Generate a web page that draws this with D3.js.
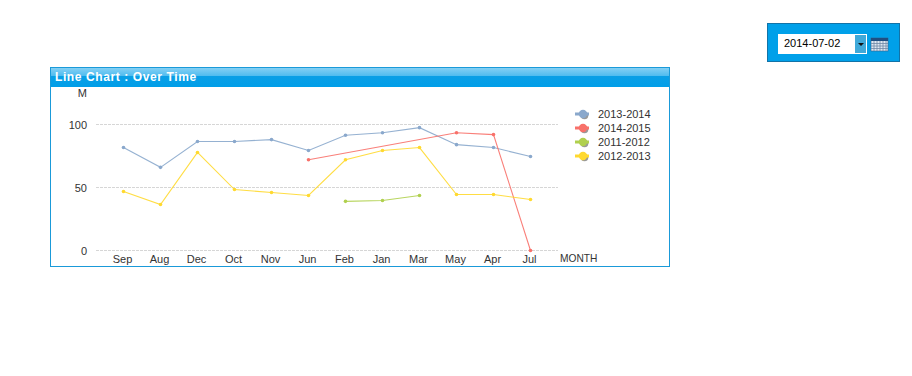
<!DOCTYPE html>
<html>
<head>
<meta charset="utf-8">
<script src="https://cdn.jsdelivr.net/npm/d3@7"></script>
<style>
  html, body { margin: 0; padding: 0; background: #fff; overflow: hidden; }
  text { font-family: "Liberation Sans", sans-serif; font-size: 11px; fill: #333; }
</style>
</head>
<body>
<div id="chart"></div>
<script>
const months = ["Sep", "Aug", "Dec", "Oct", "Nov", "Jun", "Feb", "Jan", "Mar", "May", "Apr", "Jul"];
const yTicks = [0, 50, 100];

const seriesNames = ["2013-2014", "2014-2015", "2011-2012", "2012-2013"];
const seriesColors = ["#8aa8cc", "#f8716a", "#b0d04e", "#ffd92f"];

const v1314 = [81.7, 66, 86.5, 86.5, 88, 79.4, 91.5, 93.5, 97.5, 84, 81.7, 74.6];
const v1415 = [null, null, null, null, null, 72, null, null, null, 93.5, 92, 0];
const v1112 = [null, null, null, null, null, null, 39, 39.7, 43.7, null, null, null];
const v1213 = [46.8, 36.5, 77.8, 48.4, 46, 43.7, 72, 79.4, 81.7, 44.4, 44.4, 40.5];
const seriesValues = [v1314, v1415, v1112, v1213];

const svg = d3.select("#chart").append("svg")
  .attr("width", 912)
  .attr("height", 376)
  .style("display", "block");

const defs = svg.append("defs");
const captionGrad = defs.append("linearGradient")
  .attr("id", "captionGrad")
  .attr("x1", 0).attr("x2", 0).attr("y1", 0).attr("y2", 1);
captionGrad.append("stop").attr("offset", "0%").attr("stop-color", "#84d0f4");
captionGrad.append("stop").attr("offset", "42%").attr("stop-color", "#4fbcef");
captionGrad.append("stop").attr("offset", "44%").attr("stop-color", "#0a9fe6");
captionGrad.append("stop").attr("offset", "100%").attr("stop-color", "#009ee8");

// date picker box
const picker = svg.append("g");
picker.append("rect")
  .attr("x", 767.5).attr("y", 23.5).attr("width", 132).attr("height", 38)
  .attr("fill", "#00a0e9").attr("stroke", "#1273a8");
picker.append("rect")
  .attr("x", 778).attr("y", 34).attr("width", 89).attr("height", 20)
  .attr("fill", "#fff");
picker.append("rect")
  .attr("x", 855).attr("y", 35).attr("width", 11).attr("height", 18)
  .attr("fill", "#3fa9d9");
picker.append("path")
  .attr("d", d3.line()([[858, 43], [864, 43], [861, 46]]) + "Z")
  .attr("fill", "#111");
picker.append("text")
  .attr("x", 784).attr("y", 47)
  .style("fill", "#000")
  .text("2014-07-02");

// little calendar icon
const cal = picker.append("g").attr("transform", "translate(871,38)");
cal.append("rect").attr("width", 17).attr("height", 13).attr("fill", "#dfe8f2").attr("stroke", "#3a5f86").attr("stroke-width", 0.6);
cal.append("rect").attr("width", 17).attr("height", 3).attr("fill", "#1f4f82");
d3.range(1, 6).forEach(i => {
  cal.append("line").attr("x1", i * 3).attr("x2", i * 3).attr("y1", 3).attr("y2", 13).attr("stroke", "#6f88a6").attr("stroke-width", 0.8);
});
d3.range(1, 4).forEach(i => {
  cal.append("line").attr("x1", 0).attr("x2", 17).attr("y1", 3 + i * 2.5).attr("y2", 3 + i * 2.5).attr("stroke", "#6f88a6").attr("stroke-width", 0.8);
});

// panel and caption
svg.append("rect")
  .attr("x", 50.5).attr("y", 67.5).attr("width", 619).attr("height", 199)
  .attr("fill", "#fff").attr("stroke", "#1a9ad9");
svg.append("rect")
  .attr("x", 51).attr("y", 68).attr("width", 618).attr("height", 19)
  .attr("fill", "url(#captionGrad)");
svg.append("text")
  .attr("x", 55).attr("y", 81)
  .style("fill", "#fff")
  .style("font-weight", "bold")
  .style("font-size", "12px")
  .style("letter-spacing", "0.6px")
  .text("Line Chart : Over Time");

const x = d3.scaleBand().domain(months).range([105, 549]);
const y = d3.scaleLinear().domain([0, 100]).range([250.5, 124.5]);
const px = d => x(d) + x.bandwidth() / 2;

// gridlines
svg.append("g").selectAll("line")
  .data(yTicks)
  .join("line")
  .attr("x1", 96).attr("x2", 558)
  .attr("y1", d => y(d)).attr("y2", d => y(d))
  .attr("stroke", "#d6d6d6")
  .attr("stroke-dasharray", "3,1");

svg.append("g").selectAll("text")
  .data(yTicks)
  .join("text")
  .attr("x", 87)
  .attr("y", d => y(d) + 4)
  .attr("text-anchor", "end")
  .text(d => d);

svg.append("text").attr("x", 87).attr("y", 97).attr("text-anchor", "end").text("M");

svg.append("g").selectAll("text")
  .data(months)
  .join("text")
  .attr("x", d => px(d) - 1)
  .attr("y", 263)
  .attr("text-anchor", "middle")
  .text(d => d);

svg.append("text").attr("x", 560).attr("y", 262).style("font-size", "10.2px").text("MONTH");

// lines, gaps are bridged by dropping the missing months
const line = d3.line().x(d => px(d.month)).y(d => y(d.value));

seriesNames.forEach((name, i) => {
  const pts = months
    .map((m, j) => ({ month: m, value: seriesValues[i][j] }))
    .filter(d => d.value !== null);

  const g = svg.append("g");
  g.append("path")
    .attr("d", line(pts))
    .attr("fill", "none")
    .attr("stroke", seriesColors[i])
    .attr("stroke-opacity", 0.9)
    .attr("stroke-width", 1.1);
  g.selectAll("circle")
    .data(pts)
    .join("circle")
    .attr("cx", d => px(d.month))
    .attr("cy", d => y(d.value))
    .attr("r", 1.8)
    .attr("fill", seriesColors[i]);
});

// legend
const legend = svg.append("g").selectAll("g")
  .data(seriesNames)
  .join("g")
  .attr("transform", (d, i) => `translate(0,${114 + i * 14})`);

legend.append("circle").attr("cx", 584.5).attr("cy", 1.5).attr("r", 3.8).attr("fill", "#999");
legend.append("rect")
  .attr("x", 575).attr("y", -1.5).attr("width", 14).attr("height", 3)
  .attr("fill", (d, i) => seriesColors[i]);
legend.append("circle")
  .attr("cx", 583).attr("cy", 0).attr("r", 4.2)
  .attr("fill", (d, i) => seriesColors[i]);
legend.append("text").attr("x", 598).attr("y", 4).text(d => d);
</script>
</body>
</html>
